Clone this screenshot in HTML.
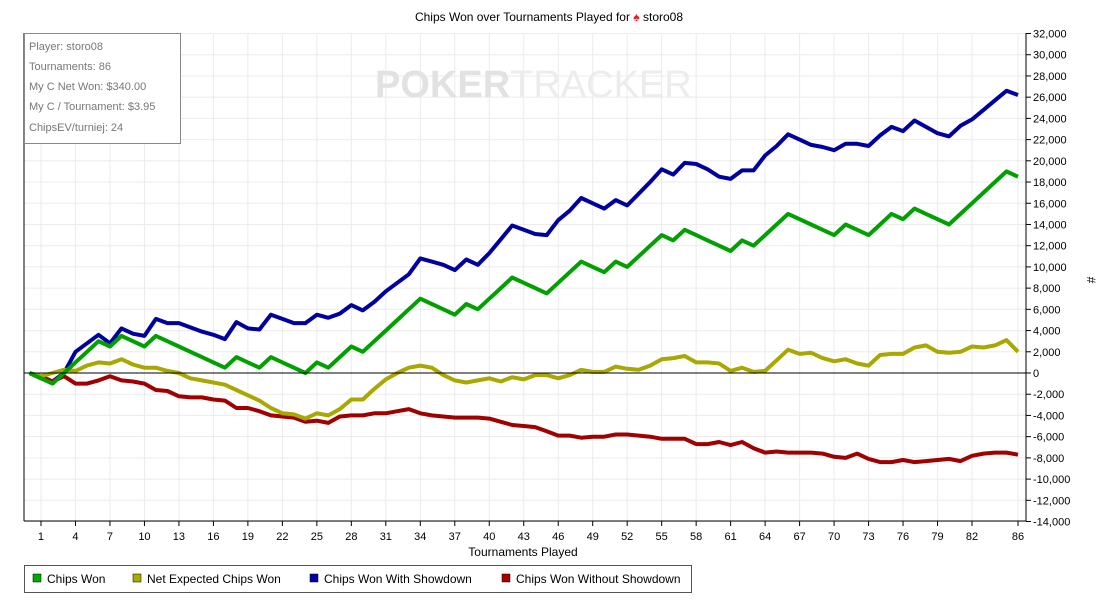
<!DOCTYPE html>
<html><head><meta charset="utf-8"><style>
body{margin:0;background:#fff;font-family:"Liberation Sans",sans-serif;}
</style></head><body>
<svg id="s" width="1098" height="595" xmlns="http://www.w3.org/2000/svg" font-family="Liberation Sans, sans-serif">
<rect width="1098" height="595" fill="#fff"/>
<g id="grid"></g>
<text x="375" y="97" font-size="38" fill="#ececec"><tspan font-weight="bold" fill="#e2e2e2">POKER</tspan><tspan>TRACKER</tspan></text>
<g id="lines"></g>
<line x1="24" y1="33" x2="24" y2="521" stroke="#000"/>
<line x1="1026" y1="33" x2="1026" y2="521" stroke="#000"/>
<line x1="24" y1="521" x2="1026" y2="521" stroke="#000"/>
<line x1="24" y1="373" x2="1026" y2="373" stroke="#000"/>
<g id="lab" font-size="11" fill="#000"></g>
<text x="549" y="21" font-size="12" text-anchor="middle">Chips Won over Tournaments Played for <tspan fill="#d22">♠</tspan> storo08</text>
<text x="523" y="556" font-size="12" text-anchor="middle">Tournaments Played</text>
<text x="1087" y="280" font-size="12" text-anchor="middle" transform="rotate(90 1087 280)">#</text>
<rect x="24.5" y="33.5" width="156" height="110" fill="#fff" stroke="#888"/>
<g font-size="11" fill="#777">
<text x="29" y="50">Player: storo08</text>
<text x="29" y="70">Tournaments: 86</text>
<text x="29" y="90">My C Net Won: $340.00</text>
<text x="29" y="110">My C / Tournament: $3.95</text>
<text x="29" y="131">ChipsEV/turniej: 24</text>
</g>
<rect x="24.5" y="565.5" width="667" height="27" fill="#fff" stroke="#555"/>
<g font-size="12">
<rect x="33" y="574" width="8" height="8" fill="#0a0" stroke="#000" stroke-width="0.5"/><text x="47" y="583">Chips Won</text>
<rect x="133" y="574" width="8" height="8" fill="#aa0" stroke="#000" stroke-width="0.5"/><text x="147" y="583">Net Expected Chips Won</text>
<rect x="310" y="574" width="8" height="8" fill="#00a" stroke="#000" stroke-width="0.5"/><text x="324" y="583">Chips Won With Showdown</text>
<rect x="502" y="574" width="8" height="8" fill="#a00" stroke="#000" stroke-width="0.5"/><text x="516" y="583">Chips Won Without Showdown</text>
</g>
</svg>
<script>
var NS="http://www.w3.org/2000/svg";
function X(n){return 29.5+n*11.494;}
function Y(v){return 373-v*10.609;}
var g=document.getElementById('grid'),lab=document.getElementById('lab');
function el(p,t,a,txt){var e=document.createElementNS(NS,t);for(var k in a)e.setAttribute(k,a[k]);if(txt!=null)e.textContent=txt;p.appendChild(e);return e;}
for(var v=-14;v<=32;v+=2){var y=Y(v);el(g,'line',{x1:24,x2:1026,y1:y,y2:y,stroke:'#ebebeb'});
el(lab,'line',{x1:1026,x2:1031,y1:y,y2:y,stroke:'#000'});
var s=v==0?'0':(v<0?'-':'')+Math.abs(v)+',000';el(lab,'text',{x:1033,y:y+4},s);}
var ticks=[];for(var n=1;n<=82;n+=3)ticks.push(n);ticks.push(86);
ticks.forEach(function(n){var x=X(n);el(g,'line',{x1:x,x2:x,y1:33,y2:521,stroke:'#ebebeb'});
el(lab,'line',{x1:x,x2:x,y1:521,y2:526,stroke:'#000'});el(lab,'text',{x:x,y:540,'text-anchor':'middle'},n);});
var S={
'#00009f':[0,-0.5,-0.8,0,2,2.8,3.6,2.8,4.2,3.7,3.5,5.1,4.7,4.7,4.3,3.9,3.6,3.2,4.8,4.2,4.1,5.5,5.1,4.7,4.7,5.5,5.2,5.6,6.4,5.9,6.7,7.7,8.5,9.3,10.8,10.5,10.2,9.7,10.7,10.2,11.3,12.6,13.9,13.5,13.1,13.0,14.4,15.3,16.5,16.0,15.5,16.3,15.8,16.9,18.0,19.2,18.7,19.8,19.7,19.2,18.5,18.3,19.1,19.1,20.5,21.4,22.5,22.0,21.5,21.3,21.0,21.6,21.6,21.4,22.4,23.2,22.8,23.8,23.2,22.6,22.3,23.3,23.9,24.8,25.7,26.6,26.2],
'#a00000':[0,-0.3,-0.8,-0.3,-1,-1,-0.7,-0.3,-0.7,-0.8,-1.0,-1.6,-1.7,-2.2,-2.3,-2.3,-2.5,-2.6,-3.3,-3.3,-3.6,-4.0,-4.1,-4.2,-4.6,-4.5,-4.7,-4.1,-4.0,-4.0,-3.8,-3.8,-3.6,-3.4,-3.8,-4.0,-4.1,-4.2,-4.2,-4.2,-4.3,-4.6,-4.9,-5.0,-5.1,-5.5,-5.9,-5.9,-6.1,-6.0,-6.0,-5.8,-5.8,-5.9,-6.0,-6.2,-6.2,-6.2,-6.7,-6.7,-6.5,-6.8,-6.5,-7.1,-7.5,-7.4,-7.5,-7.5,-7.5,-7.6,-7.9,-8.0,-7.6,-8.1,-8.4,-8.4,-8.2,-8.4,-8.3,-8.2,-8.1,-8.3,-7.8,-7.6,-7.5,-7.5,-7.7],
'#a8a800':[0,-0.3,0,0.3,0.2,0.7,1.0,0.9,1.3,0.8,0.5,0.5,0.2,0,-0.5,-0.7,-0.9,-1.1,-1.6,-2.1,-2.6,-3.3,-3.8,-3.9,-4.3,-3.8,-4.0,-3.4,-2.5,-2.5,-1.5,-0.6,0,0.5,0.7,0.5,-0.2,-0.7,-0.9,-0.7,-0.5,-0.8,-0.4,-0.6,-0.2,-0.2,-0.5,-0.2,0.3,0.1,0.1,0.6,0.4,0.3,0.7,1.3,1.4,1.6,1.0,1.0,0.9,0.2,0.5,0.1,0.2,1.2,2.2,1.8,1.9,1.4,1.1,1.3,0.9,0.7,1.7,1.8,1.8,2.4,2.6,2.0,1.9,2.0,2.5,2.4,2.6,3.1,2.0],
'#00a000':[0,-0.5,-1,0,1,2,3,2.5,3.5,3,2.5,3.5,3,2.5,2,1.5,1,0.5,1.5,1,0.5,1.5,1,0.5,0,1,0.5,1.5,2.5,2,3,4,5,6,7,6.5,6,5.5,6.5,6,7,8,9,8.5,8,7.5,8.5,9.5,10.5,10,9.5,10.5,10,11,12,13,12.5,13.5,13,12.5,12,11.5,12.5,12,13,14,15,14.5,14,13.5,13,14,13.5,13,14,15,14.5,15.5,15,14.5,14,15,16,17,18,19,18.5]};
var L=document.getElementById('lines');
for(var c in S){var p=S[c].map(function(v,i){return X(i).toFixed(1)+','+Y(v).toFixed(1);}).join(' ');
el(L,'polyline',{points:p,fill:'none',stroke:c,'stroke-width':4,'stroke-linejoin':'round'});}
</script>
</body></html>
